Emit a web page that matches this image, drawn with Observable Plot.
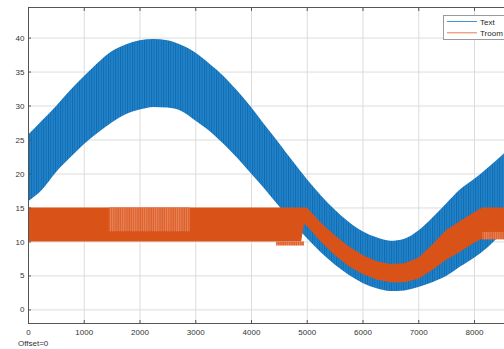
<!DOCTYPE html>
<html><head><meta charset="utf-8">
<script src="https://cdn.jsdelivr.net/npm/d3@7"></script>
<script src="https://cdn.jsdelivr.net/npm/@observablehq/plot@0.6"></script>
<style>
html,body{margin:0;padding:0;overflow:hidden;background:#fff;width:504px;height:349px;}
#wrap{position:relative;width:504px;height:349px;overflow:hidden;}
#chart{position:absolute;left:0;top:0;width:540px;}
#chart svg{max-width:none !important;}
#legend{position:absolute;left:443px;top:15px;width:75px;height:23px;border:1px solid #9a9a9a;background:#fff;font-family:"Liberation Sans",Arial,sans-serif;font-size:8px;color:#262626;}
#caption{position:absolute;left:18px;top:338px;font-family:"Liberation Sans",Arial,sans-serif;font-size:8px;color:#333;line-height:12px;}
</style></head><body>
<div id="wrap"><div id="chart"></div><div id="legend"></div><div id="caption">Offset=0</div></div>
<script>
// ---- data ----
const seriesNames = ["Text", "Troom"];
const seriesColors = ["#0072BD", "#D95319"];
const textX = [0,250,500,750,1000,1250,1500,1750,2000,2250,2500,2750,3000,3250,3500,3750,4000,4250,4500,4750,5000,5250,5500,5750,6000,6250,6500,6750,7000,7250,7500,7750,8000,8250,8500,8750,9000];
const textUpper = [25.7,27.8,29.9,32.2,34.3,36.3,38.0,39.0,39.6,39.8,39.6,38.9,37.8,36.2,34.4,32.2,29.8,27.1,24.5,21.8,19.2,16.8,14.7,12.9,11.5,10.6,10.1,10.4,11.6,13.5,15.6,17.7,19.2,20.9,22.7,24.6,26.4];
const textLower = [15.9,17.6,20.2,22.3,24.3,26.0,27.5,28.7,29.4,29.8,29.7,29.2,27.8,26.3,24.4,22.3,20.0,17.7,15.2,12.8,10.5,8.4,6.6,5.1,3.9,3.1,2.7,2.8,3.3,4.0,4.9,6.3,7.6,9.2,11.2,13.3,15.4];
const troomX = [0,4900,4950,5000,5250,5500,5750,6000,6250,6500,6750,7000,7250,7500,7750,8000,8150,9000];
const troomUpper = [15,15,15,15,12.8,10.9,9.3,8.0,7.1,6.7,6.8,7.6,9.5,11.7,13.0,14.3,15,15];
const troomLower = [10,10,12.6,12.3,10.0,8.0,6.4,5.2,4.4,4.0,4.0,4.5,5.8,7.3,8.5,9.8,10.4,10.4];
// lighter, sparse-stripe patches of Troom
const patchX1 = [1450, 4450, 8150];
const patchX2 = [2900, 4950, 9000];
const patchY1 = [11.5, 9.4, 10.3];
const patchY2 = [15, 10.0, 11.4];
const xTicks = [0,1000,2000,3000,4000,5000,6000,7000,8000,9000];
const xTickLabels = [0,1000,2000,3000,4000,5000,6000,7000,8000];
const yTicks = [0,5,10,15,20,25,30,35,40];
const xDomain = [0, 9000];
const yDomain = [-2, 44.5];

const textData = textX.map((x, i) => ({x, hi: textUpper[i], lo: textLower[i]}));
const troomData = troomX.map((x, i) => ({x, hi: troomUpper[i], lo: troomLower[i]}));
const patches = patchX1.map((x1, i) => ({x1, x2: patchX2[i], y1: patchY1[i], y2: patchY2[i]}));

const font = "'Liberation Sans', Arial, sans-serif";
const axisColor = "#555";
const chart = Plot.plot({
  width: 540, height: 338,
  marginLeft: 28, marginTop: 7, marginBottom: 15, marginRight: 10.25,
  style: {fontFamily: font, fontSize: "8px", color: "#333", background: "transparent", maxWidth: "none"},
  x: {domain: xDomain},
  y: {domain: yDomain},
  marks: [
    Plot.gridX(xTicks, {stroke: "#dcdcdc", strokeOpacity: 1}),
    Plot.gridY(yTicks, {stroke: "#dcdcdc", strokeOpacity: 1}),
    Plot.areaY(textData, {x: "x", y1: "lo", y2: "hi", fill: "url(#bstripe)", curve: "monotone-x"}),
    Plot.areaY(troomData, {x: "x", y1: "lo", y2: "hi", fill: seriesColors[1], curve: "linear"}),
    Plot.rect(patches, {x1: "x1", x2: "x2", y1: "y1", y2: "y2", fill: "url(#ostripe)"}),
    Plot.frame({stroke: axisColor, strokeWidth: 1}),
    Plot.axisX(xTickLabels, {anchor: "bottom", tickSize: 0, tickPadding: 5.5, tickFormat: d3.format("d"), label: null, stroke: axisColor, fill: "#333"}),
    Plot.axisX(xTicks, {anchor: "bottom", tickSize: -3, tickFormat: () => "", label: null, stroke: axisColor}),
    Plot.axisX(xTicks, {anchor: "top", tickSize: -3, tickFormat: () => "", label: null, stroke: axisColor}),
    Plot.axisY(yTicks, {anchor: "left", tickSize: 0, tickPadding: 4, tickFormat: d3.format("d"), label: null, fill: "#333"}),
    Plot.axisY(yTicks, {anchor: "left", tickSize: -3, tickFormat: () => "", label: null, stroke: axisColor})
  ]
});
// patterns giving the dense-oscillation texture
const ns = "http://www.w3.org/2000/svg";
const defs = document.createElementNS(ns, "defs");
defs.innerHTML = `
<pattern id="bstripe" width="2.4" height="20" patternUnits="userSpaceOnUse">
  <rect width="2.4" height="20" fill="#2482c8"/>
  <rect width="0.9" height="20" fill="#0d6cb2"/>
</pattern>
<pattern id="ostripe" width="2.2" height="20" patternUnits="userSpaceOnUse">
  <rect width="2.2" height="20" fill="#dd5f2a"/>
  <rect width="1" height="20" fill="#e8845a"/>
</pattern>`;
chart.insertBefore(defs, chart.firstChild);
chart.style.maxWidth = "none";
document.getElementById("chart").appendChild(chart);

// legend (MATLAB-style box, inside the axes at the top right)
const lg = d3.select("#legend").append("svg").attr("width", 75).attr("height", 23);
seriesNames.forEach((name, i) => {
  const y = 5.5 + i * 11.3;
  lg.append("line").attr("x1", 3).attr("x2", 33).attr("y1", y).attr("y2", y)
    .attr("stroke", seriesColors[i]).attr("stroke-width", 1).attr("stroke-opacity", 0.75);
  lg.append("text").attr("x", 36).attr("y", y + 3).text(name)
    .attr("font-family", font).attr("font-size", 8).attr("fill", "#262626");
});
</script>
</body></html>
